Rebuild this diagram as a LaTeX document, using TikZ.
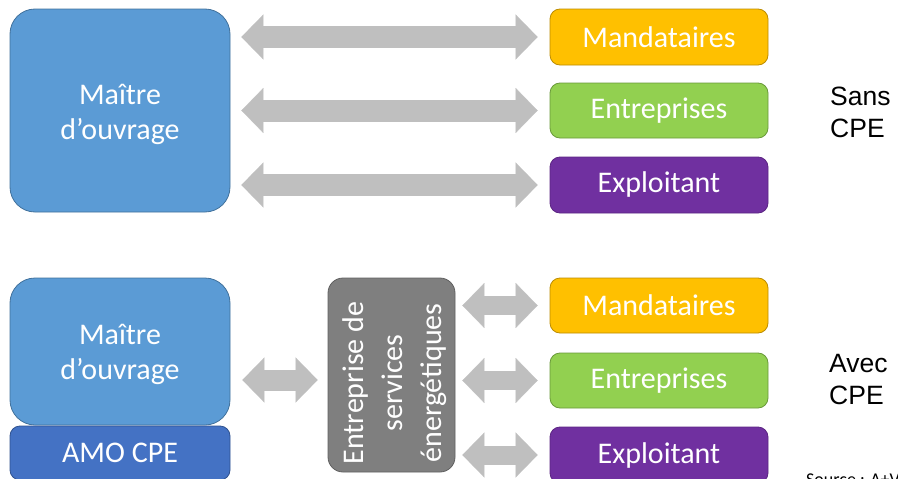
\documentclass[tikz,border=0pt]{standalone}
\usepackage{fontspec}
\setmainfont{Carlito}
\newfontfamily\arialf{Liberation Sans}
\usetikzlibrary{arrows.meta}
\definecolor{mblue}{HTML}{5B9BD5}
\definecolor{mblueb}{HTML}{41719C}
\definecolor{dblue}{HTML}{4472C4}
\definecolor{dblueb}{HTML}{2F528F}
\definecolor{orng}{HTML}{FFC000}
\definecolor{orngb}{HTML}{BC8C00}
\definecolor{grn}{HTML}{92D050}
\definecolor{grnb}{HTML}{6A9A3A}
\definecolor{purp}{HTML}{7030A0}
\definecolor{purpb}{HTML}{5B2582}
\definecolor{esegray}{HTML}{7F7F7F}
\definecolor{esegrayb}{HTML}{606060}
\definecolor{arrgray}{HTML}{BFBFBF}
\begin{document}
\begin{tikzpicture}[x=1pt,y=-1pt,
  box/.style={draw, line width=0.8pt, rounded corners=10pt, text=white,
    font=\fontsize{30}{35}\selectfont, inner sep=0pt, align=center},
  bigbox/.style={box, rounded corners=25pt, fill=mblue, draw=mblueb},
  dbl/.style={draw=arrgray, line width=22pt,
    {Triangle[length=22pt,width=45pt,line width=0.1pt]}-{Triangle[length=22pt,width=45pt,line width=0.1pt]}},
  side/.style={font=\arialf\fontsize{26.5}{32}\selectfont, align=left, anchor=west, inner sep=0pt}
]
\useasboundingbox (0,0) rectangle (898,479);
\clip (0,0) rectangle (898,479);

% --- Sans CPE ---
\node[bigbox, minimum width=220pt, minimum height=203pt] (mo1) at (120,110.5) {};
\node[text=white, font=\fontsize{30}{35}\selectfont, align=center, inner sep=0pt] (mo1t) at (120,114) {Maître\\d’ouvrage};
\node[box, fill=orng, draw=orngb, minimum width=218pt, minimum height=56pt] (m1) at (659,37) {Mandataires};
\node[box, fill=grn, draw=grnb, minimum width=218pt, minimum height=55pt] (e1) at (659,110.5) {Entreprises};
\node[box, fill=purp, draw=purpb, minimum width=218pt, minimum height=56pt] (x1) at (659,185) {Exploitant};

\draw[dbl, shorten <=11pt, shorten >=12pt] (mo1.east |- m1.west) -- (m1.west);
\draw[dbl, shorten <=11pt, shorten >=12pt] (mo1.east |- e1.west) -- (e1.west);
\draw[dbl, shorten <=11pt, shorten >=12pt] (mo1.east |- x1.west) -- (x1.west);

\node[side] (sans) at (830,112) {Sans\\CPE};

% --- Avec CPE ---
\node[bigbox, minimum width=220pt, minimum height=147pt] (mo2) at (120,351.5) {};
\node[text=white, font=\fontsize{30}{35}\selectfont, align=center, inner sep=0pt] (mo2t) at (120,354) {Maître\\d’ouvrage};
\node[box, fill=dblue, draw=dblueb, minimum width=220pt, minimum height=54pt] (amo) at (120,453) {AMO CPE};
\node[box, fill=esegray, draw=esegrayb, rounded corners=15pt, minimum width=127pt, minimum height=194pt] (ese) at (391.5,375) {};
\node[text=white, font=\fontsize{30}{39}\selectfont, align=center, rotate=90, inner sep=0pt] (eset) at (395,383) {Entreprise de\\services\\énergétiques};
\node[box, fill=orng, draw=orngb, minimum width=218pt, minimum height=55pt] (m2) at (659,305.5) {Mandataires};
\node[box, fill=grn, draw=grnb, minimum width=218pt, minimum height=55pt] (e2) at (659,380.5) {Entreprises};
\node[box, fill=purp, draw=purpb, minimum width=218pt, minimum height=56pt] (x2) at (659,455) {Exploitant};

\coordinate (ya) at (0,380);
\draw[dbl, line width=21pt, shorten <=12pt, shorten >=10pt] (mo2.east |- ya) -- (ese.west |- ya);
\draw[dbl, line width=19pt, shorten <=7pt, shorten >=12pt] (ese.east |- m2.west) -- (m2.west);
\draw[dbl, line width=19pt, shorten <=7pt, shorten >=12pt] (ese.east |- e2.west) -- (e2.west);
\draw[dbl, line width=19pt, shorten <=7pt, shorten >=12pt] (ese.east |- x2.west) -- (x2.west);

\node[side] (avec) at (829,380) {Avec\\CPE};
\node[font=\fontsize{18}{20}\selectfont, anchor=base west, inner sep=0pt] (src) at (806,485) {Source : A+V};
\end{tikzpicture}
\end{document}
